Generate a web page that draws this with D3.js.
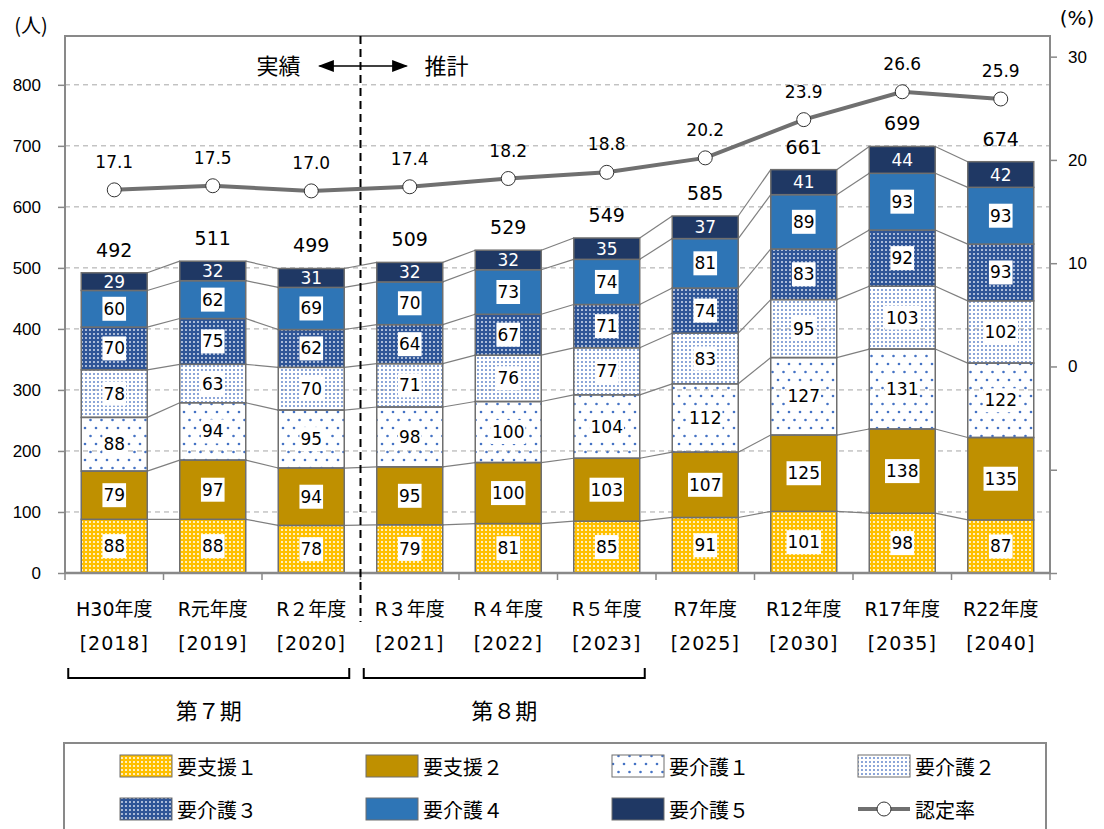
<!DOCTYPE html>
<html>
<head>
<meta charset="utf-8">
<script src="https://cdn.jsdelivr.net/npm/d3@7"></script>
<style>
  body { margin: 0; background: #fff; }
  svg { display: block; font-family: "DejaVu Sans", "Noto Sans CJK JP", sans-serif; }
</style>
</head>
<body>
<div id="chart"></div>
<script>
// data
const categories = ["H30年度", "R元年度", "R２年度", "R３年度", "R４年度", "R５年度", "R7年度", "R12年度", "R17年度", "R22年度"];
const years = ["[2018]", "[2019]", "[2020]", "[2021]", "[2022]", "[2023]", "[2025]", "[2030]", "[2035]", "[2040]"];
const seriesNames = ["要支援１", "要支援２", "要介護１", "要介護２", "要介護３", "要介護４", "要介護５"];
const shien1 = [88, 88, 78, 79, 81, 85, 91, 101, 98, 87];
const shien2 = [79, 97, 94, 95, 100, 103, 107, 125, 138, 135];
const kaigo1 = [88, 94, 95, 98, 100, 104, 112, 127, 131, 122];
const kaigo2 = [78, 63, 70, 71, 76, 77, 83, 95, 103, 102];
const kaigo3 = [70, 75, 62, 64, 67, 71, 74, 83, 92, 93];
const kaigo4 = [60, 62, 69, 70, 73, 74, 81, 89, 93, 93];
const kaigo5 = [29, 32, 31, 32, 32, 35, 37, 41, 44, 42];
const rate = [17.1, 17.5, 17.0, 17.4, 18.2, 18.8, 20.2, 23.9, 26.6, 25.9];
const leftTicks = [0, 100, 200, 300, 400, 500, 600, 700, 800];
const rightTicks = [-20, -10, 0, 10, 20, 30];
const periods = [{ label: "第７期", from: 0, to: 2 }, { label: "第８期", from: 3, to: 5 }];

const seriesValues = [shien1, shien2, kaigo1, kaigo2, kaigo3, kaigo4, kaigo5];

const width = 1104, height = 829;
const plot = { left: 65, right: 1050, top: 36, bottom: 573 };
const jp = "Noto Sans CJK JP";

const svg = d3.select("#chart").append("svg")
  .attr("width", width).attr("height", height);

// patterns
const defs = svg.append("defs");
function dotPattern(id, w, h, bg, dot, r, pts) {
  const p = defs.append("pattern").attr("id", id)
    .attr("patternUnits", "userSpaceOnUse").attr("width", w).attr("height", h);
  if (bg) p.append("rect").attr("width", w).attr("height", h).attr("fill", bg);
  pts.forEach(([cx, cy]) => p.append("circle").attr("cx", cx).attr("cy", cy).attr("r", r).attr("fill", dot));
}
dotPattern("p-s1", 4, 4, "#FFC000", "#fff", 1.0, [[2, 2]]);
dotPattern("p-k1", 11, 16, null, "#4472C4", 1.3, [[2.5, 4], [8, 12]]);
dotPattern("p-k2", 4, 4, null, "#5B80C8", 0.95, [[2, 2]]);
dotPattern("p-k3", 4, 4, "#2F5597", "#dfe6f3", 0.95, [[2, 2]]);

const fills = ["url(#p-s1)", "#BF9000", "url(#p-k1)", "url(#p-k2)", "url(#p-k3)", "#2E75B6", "#1F3864"];

// scales
const x = d3.scaleBand().domain(categories).range([plot.left, plot.right])
  .paddingInner(0.33).paddingOuter(0.165);
const y = d3.scaleLinear().domain([0, 880]).range([plot.bottom, plot.top]);
const y2 = d3.scaleLinear().domain([-20, 32]).range([plot.bottom, plot.top]);
const step = x.step();

// stacked
const rows = categories.map((c, i) => {
  const o = { cat: c };
  seriesNames.forEach((s, k) => o[s] = seriesValues[k][i]);
  return o;
});
const stacked = d3.stack().keys(seriesNames)(rows);

// gridlines
svg.append("g").selectAll("line").data(leftTicks.filter(d => d > 0)).join("line")
  .attr("x1", plot.left).attr("x2", plot.right)
  .attr("y1", d => y(d)).attr("y2", d => y(d))
  .attr("stroke", "#a6a6a6").attr("stroke-width", 1).attr("stroke-dasharray", "5,4");

// left axis
const gl = svg.append("g").attr("transform", `translate(${plot.left},0)`)
  .call(d3.axisLeft(y).tickValues(leftTicks).tickSize(7).tickPadding(17));
gl.select(".domain").remove();
gl.selectAll(".tick line").attr("stroke", "#898989").attr("stroke-width", 1.5);
gl.selectAll(".tick text").attr("font-size", 17).attr("fill", "#000").attr("font-family", null);

// right axis
const gr = svg.append("g").attr("transform", `translate(${plot.right},0)`)
  .call(d3.axisRight(y2).tickValues(rightTicks).tickSize(7).tickPadding(11)
    .tickFormat(d => d >= 0 ? d : ""));
gr.select(".domain").remove();
gr.selectAll(".tick line").attr("stroke", "#898989").attr("stroke-width", 1.5);
gr.selectAll(".tick text").attr("font-size", 17).attr("fill", "#000").attr("font-family", null);

// series connector lines
const conn = svg.append("g");
stacked.forEach(layer => {
  for (let i = 0; i < categories.length - 1; i++) {
    conn.append("line")
      .attr("x1", x(categories[i]) + x.bandwidth()).attr("y1", y(layer[i][1]))
      .attr("x2", x(categories[i + 1])).attr("y2", y(layer[i + 1][1]))
      .attr("stroke", "#7f7f7f").attr("stroke-width", 1.2);
  }
});

// bars
const barG = svg.append("g");
stacked.forEach((layer, k) => {
  barG.append("g").selectAll("rect").data(layer).join("rect")
    .attr("x", d => x(d.data.cat))
    .attr("y", d => y(d[1]))
    .attr("width", x.bandwidth())
    .attr("height", d => y(d[0]) - y(d[1]))
    .attr("fill", fills[k])
    .attr("stroke", "#6f6f6f").attr("stroke-width", 1.5);
});

// segment labels
const labG = svg.append("g");
stacked.forEach((layer, k) => {
  layer.forEach(d => {
    const cx = x(d.data.cat) + x.bandwidth() / 2;
    const cy = (y(d[0]) + y(d[1])) / 2;
    const g = labG.append("g");
    const t = g.append("text").attr("x", cx).attr("y", cy)
      .attr("text-anchor", "middle").attr("dominant-baseline", "central")
      .attr("font-size", 17)
      .attr("fill", k === 6 ? "#fff" : "#000")
      .text(d[1] - d[0]);
    if (k !== 6) {
      const bb = t.node().getBBox();
      g.insert("rect", "text")
        .attr("x", bb.x - 1).attr("y", cy - 12)
        .attr("width", bb.width + 2).attr("height", 24)
        .attr("fill", "#fff");
    }
  });
});

// totals
const topLayer = stacked[stacked.length - 1];
svg.append("g").selectAll("text").data(topLayer).join("text")
  .attr("x", d => x(d.data.cat) + x.bandwidth() / 2)
  .attr("y", d => y(d[1]) - 23)
  .attr("text-anchor", "middle").attr("dominant-baseline", "central")
  .attr("font-size", 19).attr("fill", "#000")
  .text(d => d[1]);

// plot frame
svg.append("rect")
  .attr("x", plot.left).attr("y", plot.top)
  .attr("width", plot.right - plot.left).attr("height", plot.bottom - plot.top)
  .attr("fill", "none").attr("stroke", "#898989").attr("stroke-width", 2);

// x axis
const gx = svg.append("g").attr("transform", `translate(0,${plot.bottom})`);
gx.append("line").attr("x1", plot.left).attr("x2", plot.right)
  .attr("stroke", "#898989").attr("stroke-width", 2.5);
gx.selectAll(".xt").data(d3.range(categories.length + 1)).join("line")
  .attr("x1", i => plot.left + i * step).attr("x2", i => plot.left + i * step)
  .attr("y1", 0).attr("y2", 7)
  .attr("stroke", "#898989").attr("stroke-width", 1.5);
gx.selectAll(".xl1").data(categories).join("text")
  .attr("x", d => x(d) + x.bandwidth() / 2).attr("y", 36)
  .attr("text-anchor", "middle").attr("dominant-baseline", "central")
  .attr("font-size", 19).text(d => d);
gx.selectAll(".xl2").data(years).join("text")
  .attr("x", (d, i) => x(categories[i]) + x.bandwidth() / 2).attr("y", 70)
  .attr("text-anchor", "middle").attr("dominant-baseline", "central")
  .attr("font-size", 19).attr("letter-spacing", 1).text(d => d);

// rate line
const line = d3.line().x((d, i) => x(categories[i]) + x.bandwidth() / 2).y(d => y2(d));
svg.append("path").datum(rate).attr("d", line)
  .attr("fill", "none").attr("stroke", "#707070").attr("stroke-width", 4);
svg.append("g").selectAll("circle").data(rate).join("circle")
  .attr("cx", (d, i) => x(categories[i]) + x.bandwidth() / 2).attr("cy", d => y2(d))
  .attr("r", 7).attr("fill", "#fff").attr("stroke", "#333").attr("stroke-width", 1);
svg.append("g").selectAll("text").data(rate).join("text")
  .attr("x", (d, i) => x(categories[i]) + x.bandwidth() / 2).attr("y", d => y2(d) - 28)
  .attr("text-anchor", "middle").attr("dominant-baseline", "central")
  .attr("font-size", 17).text(d => d.toFixed(1));

// divider between actual and projection
const divX = plot.left + 3 * step;
svg.append("line").attr("x1", divX).attr("x2", divX)
  .attr("y1", plot.top).attr("y2", 622)
  .attr("stroke", "#000").attr("stroke-width", 2).attr("stroke-dasharray", "8,5");
defs.append("marker").attr("id", "arr").attr("viewBox", "0 0 10 10")
  .attr("refX", 9).attr("refY", 5).attr("markerWidth", 16).attr("markerHeight", 12)
  .attr("markerUnits", "userSpaceOnUse").attr("orient", "auto-start-reverse")
  .attr("preserveAspectRatio", "none")
  .append("path").attr("d", "M0,0 L10,5 L0,10 Z").attr("fill", "#000");
svg.append("line").attr("x1", divX - 41).attr("x2", divX + 46)
  .attr("y1", 66).attr("y2", 66)
  .attr("stroke", "#000").attr("stroke-width", 1.5)
  .attr("marker-start", "url(#arr)").attr("marker-end", "url(#arr)");
svg.append("text").attr("x", divX - 60).attr("y", 64).attr("text-anchor", "end")
  .attr("dominant-baseline", "central").attr("font-family", jp).attr("font-size", 22).text("実績");
svg.append("text").attr("x", divX + 64).attr("y", 64).attr("text-anchor", "start")
  .attr("dominant-baseline", "central").attr("font-family", jp).attr("font-size", 22).text("推計");

// unit labels
svg.append("text").attr("x", 31).attr("y", 24).attr("text-anchor", "middle")
  .attr("dominant-baseline", "central").attr("font-family", jp).attr("font-size", 20).text("(人)");
svg.append("text").attr("x", 1077).attr("y", 18).attr("text-anchor", "middle")
  .attr("dominant-baseline", "central").attr("font-size", 20).text("(%)");

// period brackets
periods.forEach(p => {
  const x0 = x(categories[p.from]) - 13, x1 = x(categories[p.to]) + x.bandwidth() + 5;
  svg.append("path")
    .attr("d", `M${x0},668 V678 H${x1} V668`)
    .attr("fill", "none").attr("stroke", "#000").attr("stroke-width", 2);
  svg.append("text").attr("x", (x0 + x1) / 2).attr("y", 709)
    .attr("text-anchor", "middle").attr("dominant-baseline", "central")
    .attr("font-family", jp).attr("font-size", 22).text(p.label);
});

// legend
const lg = svg.append("g");
lg.append("rect").attr("x", 64).attr("y", 743).attr("width", 982).attr("height", 100)
  .attr("fill", "#fff").attr("stroke", "#898989").attr("stroke-width", 2);
const legendItems = seriesNames.concat(["認定率"]);
legendItems.forEach((name, i) => {
  const col = i % 4, row = Math.floor(i / 4);
  const lx = 120 + col * 246, ly = 766 + row * 43;
  if (i < 7) {
    lg.append("rect").attr("x", lx).attr("y", ly - 11).attr("width", 52).attr("height", 22)
      .attr("fill", fills[i]).attr("stroke", "#6f6f6f").attr("stroke-width", 1);
  } else {
    lg.append("line").attr("x1", lx).attr("x2", lx + 52).attr("y1", ly).attr("y2", ly)
      .attr("stroke", "#707070").attr("stroke-width", 4);
    lg.append("circle").attr("cx", lx + 26).attr("cy", ly).attr("r", 7)
      .attr("fill", "#fff").attr("stroke", "#333").attr("stroke-width", 1);
  }
  lg.append("text").attr("x", lx + 57).attr("y", ly).attr("dominant-baseline", "central")
    .attr("font-family", jp).attr("font-size", 20).text(name);
});
</script>
</body>
</html>
